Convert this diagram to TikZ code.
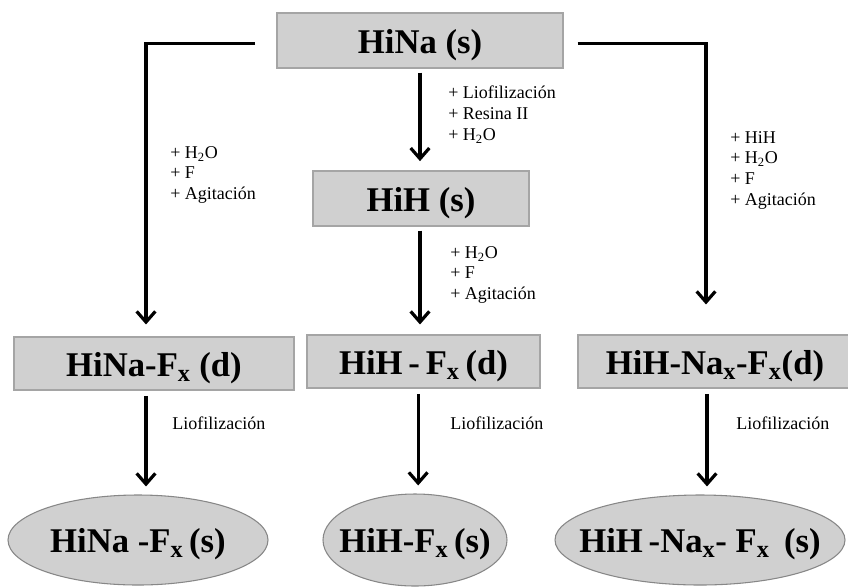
\documentclass[tikz,border=0pt]{standalone}
\usepackage{fontspec}
\setmainfont{Liberation Serif}
\usetikzlibrary{arrows.meta,shapes.geometric}

\definecolor{boxgray}{RGB}{208,208,208}
\definecolor{boxline}{RGB}{165,165,165}
\definecolor{ovalline}{RGB}{135,135,135}

\begin{document}
\begin{tikzpicture}[x=0.75pt, y=-0.75pt,
    chem/.style={font=\fontsize{26}{30}\selectfont\bfseries, text height=25pt, text depth=6pt},
    stage/.style={chem, draw=boxline, fill=boxgray, line width=0.8pt, inner sep=0pt},
    oval/.style={ellipse, draw=ovalline, fill=boxgray, line width=0.8pt, inner sep=0pt},
    flow/.style={line width=2.4pt, -{Straight Barb[length=8pt,width=14pt]}},
    note/.style={anchor=north west, align=left, inner sep=0pt, font=\fontsize{13.5}{15.5}\selectfont}]
    \useasboundingbox (0,0) rectangle (848,586);

    % stages in boxes
    \node[stage, minimum width=214.5pt, minimum height=41.25pt] (hinaS) at (420,40.5) {HiNa (s)};
    \node[stage, minimum width=162pt, minimum height=41.25pt] (hihS) at (421,198.5) {HiH (s)};
    \node[stage, minimum width=210pt, minimum height=39.75pt] (hinaFd) at (154,363.5) {HiNa-F\textsubscript{x} (d)};
    \node[stage, minimum width=174.75pt, minimum height=39.75pt] (hihFd) at (423.5,361.5) {HiH\,-\,F\textsubscript{x}\,(d)};
    \node[stage, minimum width=205.5pt, minimum height=39.75pt] (hihNaFd) at (715,361.5) {HiH-Na\textsubscript{x}-F\textsubscript{x}(d)};

    % solid products
    \node[oval, minimum width=195pt, minimum height=67.5pt, label={[chem]center:HiNa -F\textsubscript{x}\,(s)}] (hinaFs) at (138,540) {};
    \node[oval, minimum width=138pt, minimum height=69pt, label={[chem]center:HiH-F\textsubscript{x}\,(s)}] (hihFs) at (415,540) {};
    \node[oval, minimum width=217.5pt, minimum height=67.5pt, label={[chem]center:HiH\,-Na\textsubscript{x}- F\textsubscript{x}\, (s)}] (hihNaFs) at (700,540) {};

    % routes
    \draw[flow, shorten >=9pt] ([xshift=-16pt,yshift=-2pt]hinaS.west) -| ([xshift=-6pt]hinaFd.north);
    \draw[flow, shorten >=22.5pt] ([xshift=10.5pt,yshift=-2pt]hinaS.east) -| ([xshift=-6.75pt]hihNaFd.north);
    \draw[flow, shorten <=3pt, shorten >=7pt] (hinaS.south) -- (hinaS.south |- hihS.north);
    \draw[flow, shorten <=3pt, shorten >=7.5pt] (hinaS.south |- hihS.south) -- (hinaS.south |- hihFd.north);
    \foreach \src/\dst/\dx in {hinaFd/hinaFs/-6pt, hihFd/hihFs/-4pt, hihNaFd/hihNaFs/-6pt}
        \draw[flow, shorten <=4pt, shorten >=6pt] ([xshift=\dx]\src.south) -- ([xshift=\dx]\src.south |- \dst.north);

    % conditions
    \node[note] (noteLeft) at (170,146) {+ H\textsubscript{2}O\\+ F\\+ Agitación};
    \node[note] (noteTop) at (448,86) {+ Liofilización\\+ Resina II\\+ H\textsubscript{2}O};
    \node[note] (noteMid) at (450,246) {+ H\textsubscript{2}O\\+ F\\+ Agitación};
    \node[note] (noteRight) at (730,131) {+ HiH\\+ H\textsubscript{2}O\\+ F\\+ Agitación};
    \foreach \x/\name in {172/lioLeft, 450/lioMid, 736/lioRight}
        \node[note, anchor=west] (\name) at (\x,423) {Liofilización};
\end{tikzpicture}
\end{document}
